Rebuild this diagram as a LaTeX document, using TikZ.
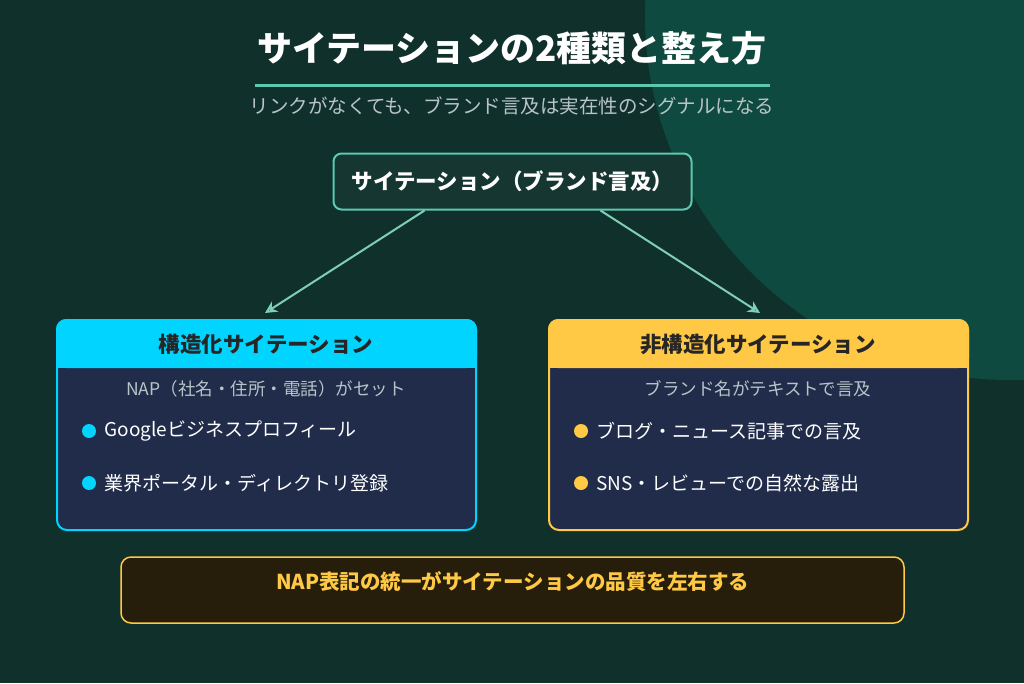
\documentclass[tikz,border=0pt]{standalone}
\usepackage{fontspec}
\setmainfont{Noto Sans CJK JP}
\usetikzlibrary{arrows.meta}
\definecolor{bg}{HTML}{10302C}
\definecolor{bgc}{HTML}{0F4A40}
\definecolor{teal}{HTML}{5CC8B0}
\definecolor{arr}{HTML}{7FCFB5}
\definecolor{navy}{HTML}{212C4A}
\definecolor{cyanb}{HTML}{00D4FF}
\definecolor{yel}{HTML}{FFC845}
\definecolor{gr}{HTML}{B8C4C8}
\begin{document}
\begin{tikzpicture}[x=1pt,y=-1pt,
  bul/.style={font=\fontsize{19}{22}\selectfont,text=white,anchor=west},
  sub/.style={font=\fontsize{17.5}{20}\selectfont,text=gr},
  hd/.style={font=\fontsize{21.5}{24}\selectfont\bfseries,text=black!85}]
\useasboundingbox (0,0) rectangle (1024,683);
\fill[bg] (0,0) rectangle (1024,683);
\begin{scope}
\clip (0,0) rectangle (1024,683);
\fill[bgc] (1010,15) circle (365);
\end{scope}
\node[font=\fontsize{35}{40}\selectfont\bfseries,text=white] (title) at (512,48) {サイテーションの2種類と整え方};
\draw[teal,line width=3pt] (255,85) -- (770,85);
\node[font=\fontsize{19.5}{22}\selectfont,text=gr] (subt) at (512,106) {リンクがなくても、ブランド言及は実在性のシグナルになる};
\node[draw=teal,line width=2pt,fill=bg!80!teal!70!black,rounded corners=8pt,minimum width=358pt,minimum height=56pt,
  font=\fontsize{21.5}{24}\selectfont\bfseries,text=white] (top) at (512.5,181.5) {サイテーション（ブランド言及）};
\coordinate (lt) at (265,313);
\coordinate (rt) at (760,313);
\draw[arr,line width=2pt,-{Stealth[length=12pt,width=12pt,open]}] (top.south west) ++(92,0) coordinate(a1) -- (lt);
\draw[arr,line width=2pt,-{Stealth[length=12pt,width=12pt,open]}] (top.south east) ++(-92,0) coordinate(a2) -- (rt);
% left box
\path[draw=cyanb,line width=2pt,fill=navy,rounded corners=10pt] (57,320) rectangle (476,530);
\fill[cyanb,rounded corners=10pt] (56,368) -- (56,319) -- (477,319) -- (477,368) -- cycle;
\fill[cyanb] (56,350) rectangle (477,368);
\node[hd] (lh) at (266,344) {構造化サイテーション};
\node[sub] (ls) at (266,389) {NAP（社名・住所・電話）がセット};
\fill[cyanb] (89,431) circle (7) node[bul,xshift=12pt] (l1) {Googleビジネスプロフィール};
\fill[cyanb] (89,483) circle (7) node[bul,xshift=12pt] (l2) {業界ポータル・ディレクトリ登録};
% right box
\path[draw=yel,line width=2pt,fill=navy,rounded corners=10pt] (549,320) rectangle (968,530);
\fill[yel,rounded corners=10pt] (548,368) -- (548,319) -- (969,319) -- (969,368) -- cycle;
\fill[yel] (548,350) rectangle (969,368);
\node[hd] (rh) at (758,344) {非構造化サイテーション};
\node[sub] (rs) at (758,389) {ブランド名がテキストで言及};
\fill[yel] (581,431) circle (7) node[bul,xshift=12pt] (r1) {ブログ・ニュース記事での言及};
\fill[yel] (581,483) circle (7) node[bul,xshift=12pt] (r2) {SNS・レビューでの自然な露出};
% bottom
\node[draw=yel,line width=1.5pt,fill=yel!15!black,rounded corners=10pt,minimum width=783pt,minimum height=66pt] (bot) at (512.5,590) {};
\node[font=\fontsize{20.5}{24}\selectfont\bfseries,text=yel] (bott) at (512.5,582) {NAP表記の統一がサイテーションの品質を左右する};
\end{tikzpicture}
\end{document}
